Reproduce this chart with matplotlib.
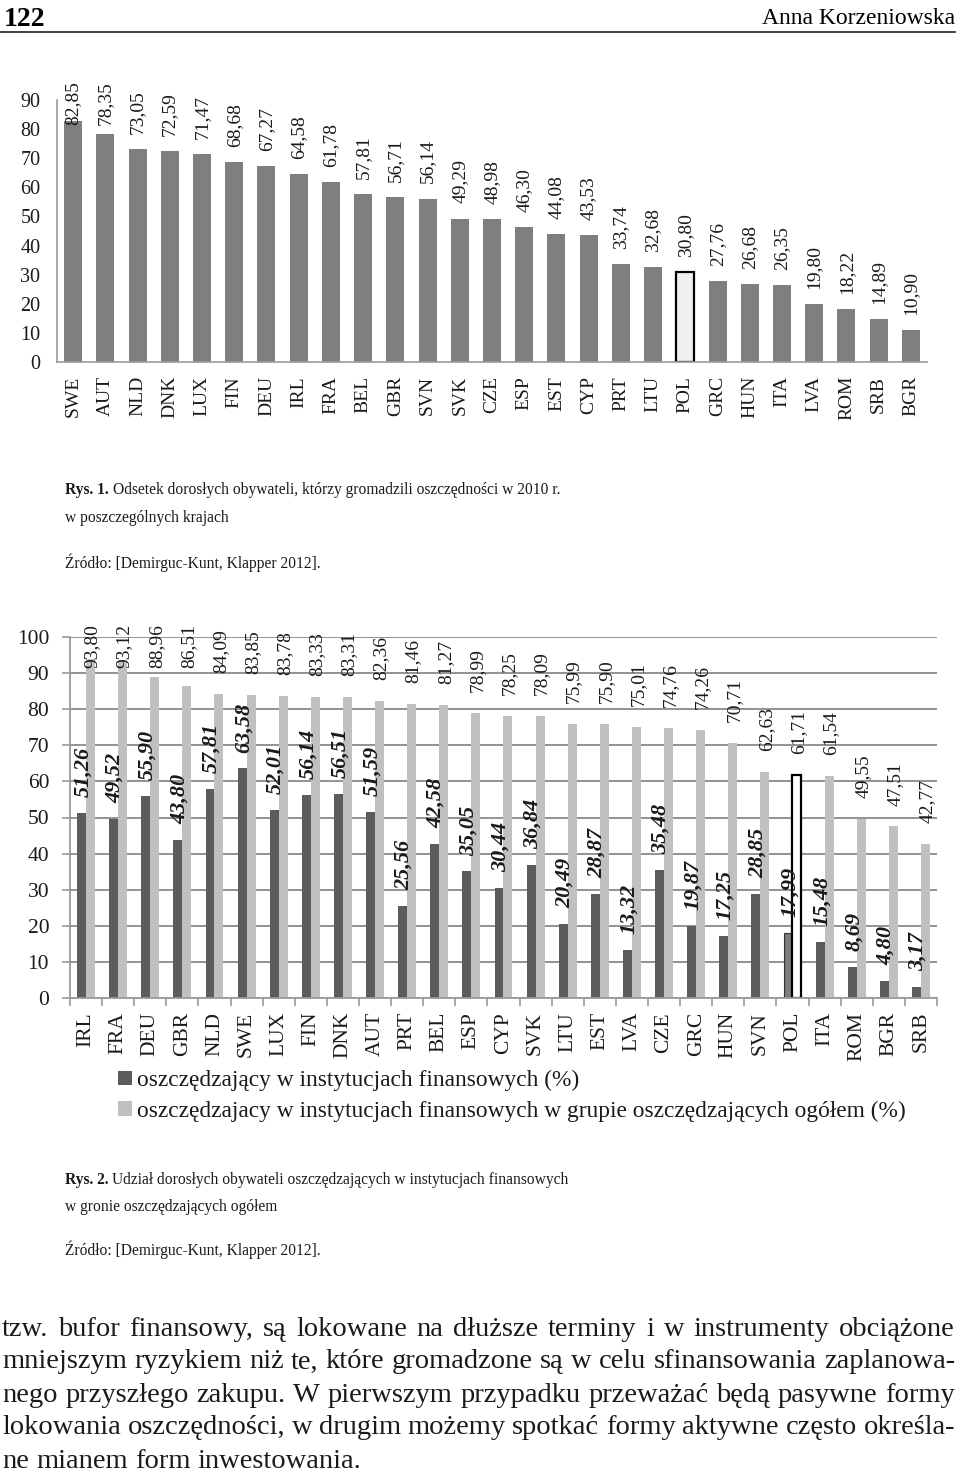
import matplotlib
matplotlib.use("Agg")
import matplotlib.pyplot as plt
from matplotlib.patches import Patch
import numpy as np

plt.rcParams['font.family'] = ['Liberation Serif', 'DejaVu Serif']

# ---------------- data ----------------
countries1 = ["SWE", "AUT", "NLD", "DNK", "LUX", "FIN", "DEU", "IRL", "FRA", "BEL",
              "GBR", "SVN", "SVK", "CZE", "ESP", "EST", "CYP", "PRT", "LTU", "POL",
              "GRC", "HUN", "ITA", "LVA", "ROM", "SRB", "BGR"]
savers1 = [82.85, 78.35, 73.05, 72.59, 71.47, 68.68, 67.27, 64.58, 61.78, 57.81,
           56.71, 56.14, 49.29, 48.98, 46.30, 44.08, 43.53, 33.74, 32.68, 30.80,
           27.76, 26.68, 26.35, 19.80, 18.22, 14.89, 10.90]

countries2 = ["IRL", "FRA", "DEU", "GBR", "NLD", "SWE", "LUX", "FIN", "DNK", "AUT",
              "PRT", "BEL", "ESP", "CYP", "SVK", "LTU", "EST", "LVA", "CZE", "GRC",
              "HUN", "SVN", "POL", "ITA", "ROM", "BGR", "SRB"]
inst_savers = [51.26, 49.52, 55.90, 43.80, 57.81, 63.58, 52.01, 56.14, 56.51, 51.59,
               25.56, 42.58, 35.05, 30.44, 36.84, 20.49, 28.87, 13.32, 35.48, 19.87,
               17.25, 28.85, 17.99, 15.48, 8.69, 4.80, 3.17]
inst_share = [93.80, 93.12, 88.96, 86.51, 84.09, 83.85, 83.78, 83.33, 83.31, 82.36,
              81.46, 81.27, 78.99, 78.25, 78.09, 75.99, 75.90, 75.01, 74.76, 74.26,
              70.71, 62.63, 61.71, 61.54, 49.55, 47.51, 42.77]

legend_labels = ["oszczędzający w instytucjach finansowych (%)",
                 "oszczędzajacy w instytucjach finansowych w grupie oszczędzających ogółem (%)"]

header_left = "122"
header_right = "Anna Korzeniowska"
cap1_bold = "Rys. 1."
cap1_lines = ["Odsetek dorosłych obywateli, którzy gromadzili oszczędności w 2010 r.",
              "w poszczególnych krajach"]
cap2_bold = "Rys. 2."
cap2_lines = ["Udział dorosłych obywateli oszczędzających w instytucjach finansowych",
              "w gronie oszczędzających ogółem"]
source = "Źródło: [Demirguc-Kunt, Klapper 2012]."
body_lines = [
    "tzw. bufor finansowy, są lokowane na dłuższe terminy i w instrumenty obciążone",
    "mniejszym ryzykiem niż te, które gromadzone są w celu sfinansowania zaplanowa-",
    "nego przyszłego zakupu. W pierwszym przypadku przeważać będą pasywne formy",
    "lokowania oszczędności, w drugim możemy spotkać formy aktywne często określa-",
    "ne mianem form inwestowania.",
]

W, H = 960, 1477
fig = plt.figure(figsize=(W / 100, H / 100), dpi=100)
fig.patch.set_facecolor("white")


def rect(left, top, right, bottom):
    return [left / W, 1 - bottom / H, (right - left) / W, (bottom - top) / H]


def fmt(v):
    return f"{v:.2f}".replace(".", ",")


TXT = "#1a1a1a"
AXC = "#9a9a9a"

# ---------------- chart 1 ----------------
ax1 = fig.add_axes(rect(57, 100, 927, 362))
x1 = np.arange(len(countries1))
colors1 = ["#f0f0f0" if c == "POL" else "#7f7f7f" for c in countries1]
edges1 = ["black" if c == "POL" else "none" for c in countries1]
lws1 = [1.6 if c == "POL" else 0 for c in countries1]
ax1.bar(x1, savers1, width=0.56, color=colors1, edgecolor=edges1, linewidth=lws1, zorder=2)
for xi, v in zip(x1, savers1):
    ax1.text(xi, min(v + 5.2, 81.4), fmt(v), rotation=90, ha="center", va="bottom",
             fontsize=14, color=TXT, clip_on=False)
ax1.set_xlim(-0.5, len(countries1) - 0.5)
ax1.set_ylim(0, 90)
ax1.set_yticks(np.arange(0, 91, 10))
ax1.set_xticks(x1)
ax1.set_xticklabels(countries1, rotation=90, fontsize=14, color=TXT)
ax1.tick_params(axis="x", length=0, pad=10)
ax1.tick_params(axis="y", length=0, pad=12, labelsize=14.5, labelcolor=TXT)
for s in ["top", "right"]:
    ax1.spines[s].set_visible(False)
for s in ["left", "bottom"]:
    ax1.spines[s].set_color(AXC)
    ax1.spines[s].set_linewidth(1.2)

# ---------------- chart 2 ----------------
ax2 = fig.add_axes(rect(70, 637, 937, 998))
x2 = np.arange(len(countries2))
bw = 0.28
dark_c = ["#7d7d7d" if c == "POL" else "#5c5c5c" for c in countries2]
dark_e = ["#333333" if c == "POL" else "none" for c in countries2]
dark_lw = [0.8 if c == "POL" else 0 for c in countries2]
light_c = ["white" if c == "POL" else "#c0c0c0" for c in countries2]
light_e = ["black" if c == "POL" else "none" for c in countries2]
light_lw = [1.6 if c == "POL" else 0 for c in countries2]
ax2.bar(x2 - bw / 2, inst_savers, width=bw, color=dark_c, edgecolor=dark_e,
        linewidth=dark_lw, zorder=2)
ax2.bar(x2 + bw / 2, inst_share, width=bw, color=light_c, edgecolor=light_e,
        linewidth=light_lw, zorder=2)
for xi, v in zip(x2, inst_share):
    ax2.text(xi + bw / 2 + 0.05, min(v + 5.8, 91.4), fmt(v), rotation=90, ha="center",
             va="bottom", fontsize=14, color=TXT, clip_on=False, zorder=3)
for xi, v in zip(x2, inst_savers):
    ax2.text(xi - bw / 2 + 0.05, v + 4.4, fmt(v), rotation=90, ha="center",
             va="bottom", fontsize=16, fontweight="bold", fontstyle="italic",
             color=TXT, clip_on=False, zorder=3)
ax2.set_xlim(-0.5, len(countries2) - 0.5)
ax2.set_ylim(0, 100)
ax2.set_yticks(np.arange(0, 101, 10))
ax2.yaxis.grid(True, color="#8a8a8a", linewidth=1.3, zorder=0)
ax2.set_axisbelow(True)
ax2.set_xticks(x2)
ax2.set_xticklabels(countries2, rotation=90, fontsize=15.5, color=TXT)
ax2.set_xticks(np.arange(-0.5, len(countries2), 1), minor=True)
ax2.tick_params(axis="x", which="major", length=0, pad=10)
ax2.tick_params(axis="x", which="minor", length=6, width=1.2, color=AXC, direction="out")
ax2.tick_params(axis="y", length=6, width=1.2, color=AXC, pad=9, labelsize=15.5,
                labelcolor=TXT)
for s in ["top", "right"]:
    ax2.spines[s].set_visible(False)
for s in ["left", "bottom"]:
    ax2.spines[s].set_color(AXC)
    ax2.spines[s].set_linewidth(1.3)

handles = [Patch(facecolor="#5c5c5c", edgecolor="none"),
           Patch(facecolor="#c0c0c0", edgecolor="none")]
fig.legend(handles, legend_labels, loc="upper left",
           bbox_to_anchor=(118 / W, 1 - 1070 / H), frameon=False, fontsize=16.8,
           handlelength=0.58, handleheight=0.58, handletextpad=0.25,
           labelspacing=0.4, borderpad=0, borderaxespad=0, labelcolor=TXT)

# ---------------- page text (pixel overlay) ----------------
ov = fig.add_axes([0, 0, 1, 1], zorder=-1)
ov.set_xlim(0, W)
ov.set_ylim(H, 0)
ov.axis("off")
renderer = fig.canvas.get_renderer()

ov.text(4, 19, header_left, fontsize=20, fontweight="bold", va="center", ha="left", color="black")
ov.text(955, 19, header_right, fontsize=17, va="center", ha="right", color="black")
ov.plot([0, 955], [32, 32], color="#222222", linewidth=1.2)


def caption(x, y, bold, rest, size):
    t = ov.text(x, y, bold, fontsize=size, fontweight="bold", va="center", ha="left", color=TXT)
    bb = t.get_window_extent(renderer)
    ov.text(x + bb.width + 4, y, rest, fontsize=size, va="center", ha="left", color=TXT)


CS = 11.2
caption(65, 490, cap1_bold, cap1_lines[0], CS)
ov.text(65, 518, cap1_lines[1], fontsize=CS, va="center", ha="left", color=TXT)
ov.text(65, 563, source, fontsize=CS, va="center", ha="left", color=TXT)

caption(65, 1180, cap2_bold, cap2_lines[0], CS)
ov.text(65, 1207, cap2_lines[1], fontsize=CS, va="center", ha="left", color=TXT)
ov.text(65, 1250, source, fontsize=CS, va="center", ha="left", color=TXT)


def word_width(w, size):
    t = ov.text(0, 0, w, fontsize=size)
    wd = t.get_window_extent(renderer).width
    t.remove()
    return wd


def justify(line, y, x0, x1, size, last=False):
    words = line.split(" ")
    widths = [word_width(w, size) for w in words]
    if last or len(words) == 1:
        gap = word_width("a a", size) - 2 * word_width("a", size)
    else:
        gap = (x1 - x0 - sum(widths)) / (len(words) - 1)
    xp = x0
    for w, wd in zip(words, widths):
        ov.text(xp, y, w, fontsize=size, va="center", ha="left", color=TXT)
        xp += wd + gap


BS = 20.5
for i, (line, yy) in enumerate(zip(body_lines, [1330, 1362, 1395, 1428, 1461])):
    justify(line, yy, 2, 955, BS, last=(i == len(body_lines) - 1))

fig.savefig("out.png", dpi=100, facecolor="white")
